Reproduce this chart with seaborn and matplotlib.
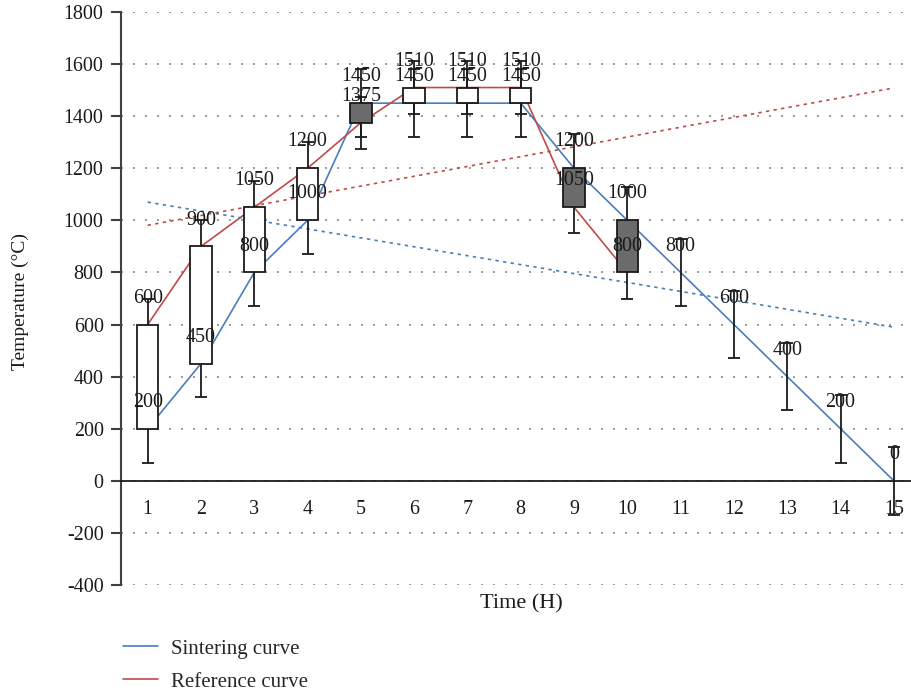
import numpy as np
import pandas as pd
import matplotlib
matplotlib.use("Agg")
import matplotlib.pyplot as plt
from matplotlib.lines import Line2D
import seaborn as sns

# ---- data -------------------------------------------------------------
time_h = list(range(1, 16))
sintering = [200, 450, 800, 1000, 1450, 1450, 1450, 1450, 1200, 1000, 800, 600, 400, 200, 0]
reference = [600, 900, 1050, 1200, 1375, 1510, 1510, 1510, 1050, 800]
ref_time = time_h[:len(reference)]
sintering_err = 130
reference_err = 100
y_ticks = list(range(-400, 1801, 200))

BLUE = "#4a7ebb"
RED = "#be4b48"
DARK = "#6b6b6b"

sns.set_theme(style="white")
plt.rcParams["font.family"] = ["Liberation Serif", "DejaVu Serif"]
plt.rcParams["axes.unicode_minus"] = False

fig = plt.figure(figsize=(9.12, 6.95), dpi=100)
ax = fig.add_axes([121 / 912, 110 / 695, 791 / 912, 573 / 695])
ax.set_xlim(0.5, 0.5 + 791 / 53.3)
ax.set_ylim(-400, 1800)

# dotted horizontal grid
ax.set_axisbelow(True)
ax.yaxis.grid(True, color="#8a8a8a", linestyle=(0, (1.2, 6.0)), linewidth=1.2)
ax.xaxis.grid(False)

# curves
long_df = pd.concat([
    pd.DataFrame({"Time": time_h, "Temperature": sintering, "curve": "Sintering curve"}),
    pd.DataFrame({"Time": ref_time, "Temperature": reference, "curve": "Reference curve"}),
])
sns.lineplot(data=long_df, x="Time", y="Temperature", hue="curve",
             palette={"Sintering curve": BLUE, "Reference curve": RED},
             linewidth=1.2, legend=False, ax=ax, zorder=2, sort=False,
             estimator=None)

# linear trend lines
for xs, ys, col in [(time_h, sintering, BLUE), (ref_time, reference, RED)]:
    k, b = np.polyfit(xs, ys, 1)
    xt = np.array([time_h[0], time_h[-1]])
    ax.plot(xt, k * xt + b, color=col, linewidth=1.2,
            linestyle=(0, (2.0, 2.6)), zorder=2)

# high-low whiskers
ax.errorbar(time_h, sintering, yerr=sintering_err, fmt="none", ecolor="#1a1a1a",
            elinewidth=1.3, capsize=4, capthick=1.3, zorder=3)
ax.errorbar(ref_time, reference, yerr=reference_err, fmt="none", ecolor="#1a1a1a",
            elinewidth=1.3, capsize=4, capthick=1.3, zorder=3)

# up / down bars between the two curves
lo = [min(s, r) for s, r in zip(sintering, reference)]
hi = [max(s, r) for s, r in zip(sintering, reference)]
fills = ["white" if r > s else DARK for s, r in zip(sintering, reference)]
ax.bar(ref_time, [h - l for h, l in zip(hi, lo)], bottom=lo, width=0.4,
       color=fills, edgecolor="#1a1a1a", linewidth=1.3, zorder=4)

# value labels
for xs, ys in [(time_h, sintering), (ref_time, reference)]:
    for x, y in zip(xs, ys):
        ax.annotate(f"{y}", (x, y), xytext=(0, 19), textcoords="offset points",
                    ha="center", va="center", fontsize=14.4, color="#1a1a1a",
                    zorder=6)

# axes styling
for side in ["top", "right"]:
    ax.spines[side].set_visible(False)
ax.spines["left"].set_color("#404040")
ax.spines["left"].set_linewidth(1.5)
ax.spines["bottom"].set_position(("data", 0))
ax.spines["bottom"].set_color("#1a1a1a")
ax.spines["bottom"].set_linewidth(1.3)

ax.set_yticks(y_ticks)
ax.set_yticklabels([str(t) for t in y_ticks])
ax.set_xticks(time_h)
ax.set_xticklabels([str(t) for t in time_h])
ax.tick_params(axis="y", direction="out", length=7.5, width=1.5, color="#404040",
               pad=5, labelsize=14.4, labelcolor="#1a1a1a", left=True)
ax.tick_params(axis="x", length=0, pad=14, labelsize=14.4, labelcolor="#1a1a1a")
ax.set_xlabel("")
ax.set_ylabel("")

fig.text(521 / 912, 1 - 604 / 695, "Time (H)", ha="center", va="center",
         fontsize=16, color="#1a1a1a")
fig.text(20 / 912, 1 - 302 / 695, "Temperature (°C)", ha="center", va="center",
         rotation=90, fontsize=14, color="#1a1a1a")

handles = [Line2D([], [], color=BLUE, linewidth=1.2),
           Line2D([], [], color=RED, linewidth=1.2)]
fig.legend(handles, ["Sintering curve", "Reference curve"], loc="upper left",
           bbox_to_anchor=(123 / 912, 1 - 639 / 695), frameon=False,
           fontsize=15, handlelength=1.7, handletextpad=0.6, labelspacing=0.65,
           borderpad=0, borderaxespad=0)

fig.savefig("out.png", dpi=100)
